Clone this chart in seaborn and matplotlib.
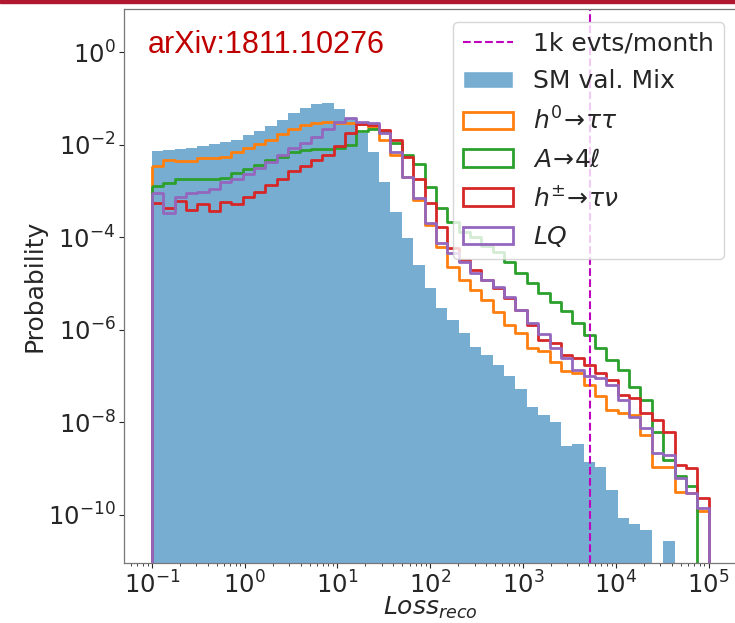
import numpy as np
import matplotlib
matplotlib.use("Agg")
import matplotlib.pyplot as plt
from matplotlib.lines import Line2D
from matplotlib.patches import Patch, Rectangle
from matplotlib.colors import to_rgba
import seaborn as sns

# Common binning of the reconstruction loss: 49 log-spaced bins, 10^-1 .. 10^5
LOG_LOSS_MIN, LOG_LOSS_MAX, N_BINS = -1.0, 5.0, 49

# Loss value of the 1k events / month threshold
THRESHOLD_LOSS = 5.3e3

# Per-bin probabilities, given as log10 exponents (nan = empty bin)
nan = np.nan
sm_mix = [-2.14, -2.12, -2.10, -2.07, -2.03, -1.99, -1.95, -1.89, -1.80, -1.71,
          -1.59, -1.46, -1.31, -1.20, -1.12, -1.11, -1.22, -1.43, -1.76, -2.15,
          -2.80, -3.45, -4.02, -4.60, -5.10, -5.54, -5.79, -6.08, -6.37, -6.54,
          -6.76, -7.01, -7.29, -7.66, -7.84, -7.99, -8.51, -8.47, -8.85, -8.96,
          -9.46, -10.07, -10.19, -10.32, nan, -10.56, nan, nan, nan]
h0_tautau = [-2.46, -2.33, -2.36, -2.36, -2.28, -2.28, -2.26, -2.15, -2.08, -1.99,
             -1.89, -1.77, -1.67, -1.57, -1.54, -1.51, -1.53, -1.54, -1.56, -1.61,
             -1.90, -2.23, -2.69, -3.20, -3.74, -4.21, -4.64, -4.92, -5.14, -5.36,
             -5.61, -5.90, -6.08, -6.40, -6.47, -6.69, -6.90, -6.94, -7.19, -7.44,
             -7.73, -7.80, -7.84, -8.27, -8.96, -8.96, -9.50, -9.52, -9.91]
a_4l = [-2.89, -2.82, -2.74, -2.74, -2.75, -2.75, -2.73, -2.62, -2.52, -2.44,
        -2.33, -2.26, -2.15, -2.12, -2.09, -2.09, -2.08, -2.01, -1.70, -1.66,
        -1.72, -1.96, -2.23, -2.41, -2.91, -3.38, -3.67, -3.88, -3.99, -4.20,
        -4.31, -4.53, -4.78, -5.00, -5.21, -5.39, -5.60, -5.85, -6.12, -6.40,
        -6.65, -6.87, -7.24, -7.52, -8.20, -8.81, -9.17, -9.37, nan]
hpm_taunu = [-3.27, -3.38, -3.21, -3.41, -3.28, -3.43, -3.25, -3.28, -3.13, -3.02,
             -2.87, -2.75, -2.56, -2.46, -2.33, -2.23, -2.03, -1.76, -1.56, -1.58,
             -1.69, -1.90, -2.26, -2.75, -3.27, -3.77, -4.24, -4.49, -4.71, -4.92,
             -5.10, -5.32, -5.57, -5.90, -6.22, -6.29, -6.54, -6.62, -6.76, -6.94,
             -7.08, -7.41, -7.48, -7.80, -7.95, -8.20, -8.92, -8.99, -9.64]
lq = [-3.05, -3.48, -3.13, -3.05, -3.02, -2.95, -2.80, -2.75, -2.64, -2.51,
      -2.37, -2.23, -2.08, -1.96, -1.83, -1.67, -1.51, -1.43, -1.51, -1.53,
      -1.76, -2.17, -2.69, -3.16, -3.70, -4.13, -4.35, -4.53, -4.78, -4.92,
      -5.07, -5.29, -5.57, -5.85, -6.10, -6.40, -6.62, -6.87, -7.01, -7.05,
      -7.19, -7.52, -7.88, -8.13, -8.67, -8.70, -9.21, -9.53, -9.86]

sm_label = "SM val. Mix"
threshold_label = "1k evts/month"
signal_labels = [r"$h^0\!\to\!\tau\tau$", r"$A\!\to\!4\ell$",
                 r"$h^{\pm}\!\to\!\tau\nu$", r"$LQ$"]
signal_values = [h0_tautau, a_4l, hpm_taunu, lq]
signal_colors = ["#ff7f0e", "#2ca02c", "#d62728", "#9467bd"]
sm_color = "#1f77b4"


def to_prob(exponents):
    return np.nan_to_num(10.0 ** np.asarray(exponents, dtype=float), nan=0.0)


sns.set_style("ticks", {"xtick.major.size": 3.5, "ytick.major.size": 3.5,
                        "xtick.minor.size": 2.0, "ytick.minor.size": 2.0})
plt.rcParams["font.family"] = ["DejaVu Sans"]
plt.rcParams["mathtext.fontset"] = "dejavusans"

fig = plt.figure(figsize=(7.35, 6.23), dpi=100)
ax = fig.add_axes([124 / 735, 1 - 563 / 623, 612.5 / 735, 554 / 623])

edges_log = np.linspace(LOG_LOSS_MIN, LOG_LOSS_MAX, N_BINS + 1)
centers = 10 ** (0.5 * (edges_log[:-1] + edges_log[1:]))
hist_kws = dict(bins=N_BINS, binrange=(LOG_LOSS_MIN, LOG_LOSS_MAX),
                log_scale=True, element="step", stat="count", ax=ax)

ax.axvline(THRESHOLD_LOSS, color="m", ls="--", lw=1.5)

sns.histplot(x=centers, weights=to_prob(sm_mix), fill=True, color=sm_color,
             alpha=0.6, linewidth=0, **hist_kws)
for vals, col in zip(signal_values, signal_colors):
    sns.histplot(x=centers, weights=to_prob(vals), fill=True, color=col,
                 facecolor="none", edgecolor=col, linewidth=2, **hist_kws)

ax.set_yscale("log")
ax.set_xlim(10 ** -1.3, 10 ** 5.3)
ax.set_ylim(10 ** -11.04, 10 ** 0.93)

ax.set_xlabel(r"$Loss_{reco}$", fontsize=18)
ax.set_ylabel("Probability", fontsize=18)
ax.xaxis.set_label_coords(0.5, -0.058)
ax.yaxis.set_label_coords(-0.127, 0.5)
ax.tick_params(labelsize=17.5, width=0.8, pad=2.5)
for sp in ax.spines.values():
    sp.set_color("#777777")
    sp.set_linewidth(0.9)

handles = [Line2D([], [], color="m", ls="--", lw=1.5),
           Patch(facecolor=to_rgba(sm_color, 0.6))]
handles += [Patch(facecolor="none", edgecolor=c, linewidth=2) for c in signal_colors]
labels = [threshold_label, sm_label] + signal_labels
ax.legend(handles, labels, loc="upper right", fontsize=18, framealpha=0.8,
          labelspacing=0.55)

fig.text(148 / 735, 1 - 45 / 623, "arXiv:1811.10276", color="#c00000",
         fontsize=22, family=["Liberation Sans"], va="center", ha="left")
fig.patches.append(Rectangle((0, 1 - 2.5 / 623), 1, 2.5 / 623,
                             transform=fig.transFigure, color="#b0182f",
                             zorder=10))

fig.savefig("out.png", dpi=100)
